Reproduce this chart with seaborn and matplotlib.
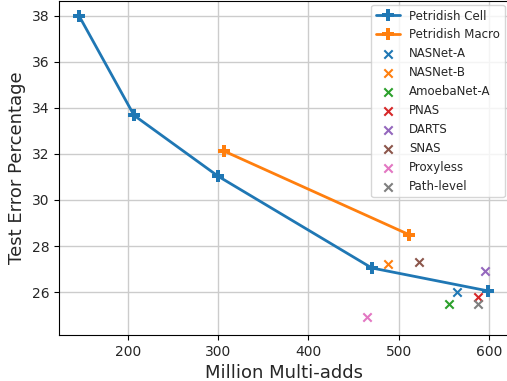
import matplotlib
matplotlib.use("Agg")
import matplotlib.pyplot as plt
import seaborn as sns

# Petridish search results (million multi-adds vs test error %)
cell_madds = [146, 207, 300, 470, 599]
cell_err = [38.0, 33.67, 31.03, 27.05, 26.05]
macro_madds = [306, 511]
macro_err = [32.13, 28.5]

# other NAS methods
others = ["NASNet-A", "NASNet-B", "AmoebaNet-A", "PNAS", "DARTS", "SNAS", "Proxyless", "Path-level"]
others_madds = [564, 488, 555, 588, 595, 522, 465, 588]
others_err = [26.0, 27.2, 25.5, 25.8, 26.9, 27.3, 24.9, 25.5]

sns.set_style("ticks", {"axes.grid": True, "grid.color": "#cccccc",
                        "axes.edgecolor": "black", "font.family": ["DejaVu Sans"]})
palette = sns.color_palette("tab10")

fig = plt.figure(figsize=(5.07, 3.81), dpi=100)
ax = fig.add_axes([0.1164, 0.1207, 0.886, 0.876])

sns.lineplot(x=cell_madds, y=cell_err, sort=False, ax=ax, color=palette[0],
             marker="P", markersize=8, markeredgewidth=0, linewidth=2,
             label="Petridish Cell")
sns.lineplot(x=macro_madds, y=macro_err, sort=False, ax=ax, color=palette[1],
             marker="P", markersize=8, markeredgewidth=0, linewidth=2,
             label="Petridish Macro")

for i, name in enumerate(others):
    ax.scatter(others_madds[i], others_err[i], marker="x", s=36,
               linewidths=1.5, color=palette[i], label=name, zorder=3)

ax.set_xlim(124, 621)
ax.set_ylim(24.14, 38.62)
ax.set_xticks([200, 300, 400, 500, 600])
ax.set_yticks([26, 28, 30, 32, 34, 36, 38])
ax.grid(True, color="#cccccc", linewidth=1)
ax.tick_params(labelsize=10, length=3.5, color="black")
ax.set_xlabel("Million Multi-adds", fontsize=13)
ax.set_ylabel("Test Error Percentage", fontsize=13)

ax.legend(loc="upper right", fontsize=8.5, frameon=True, borderaxespad=0.3)

fig.savefig("out.png", dpi=100)
